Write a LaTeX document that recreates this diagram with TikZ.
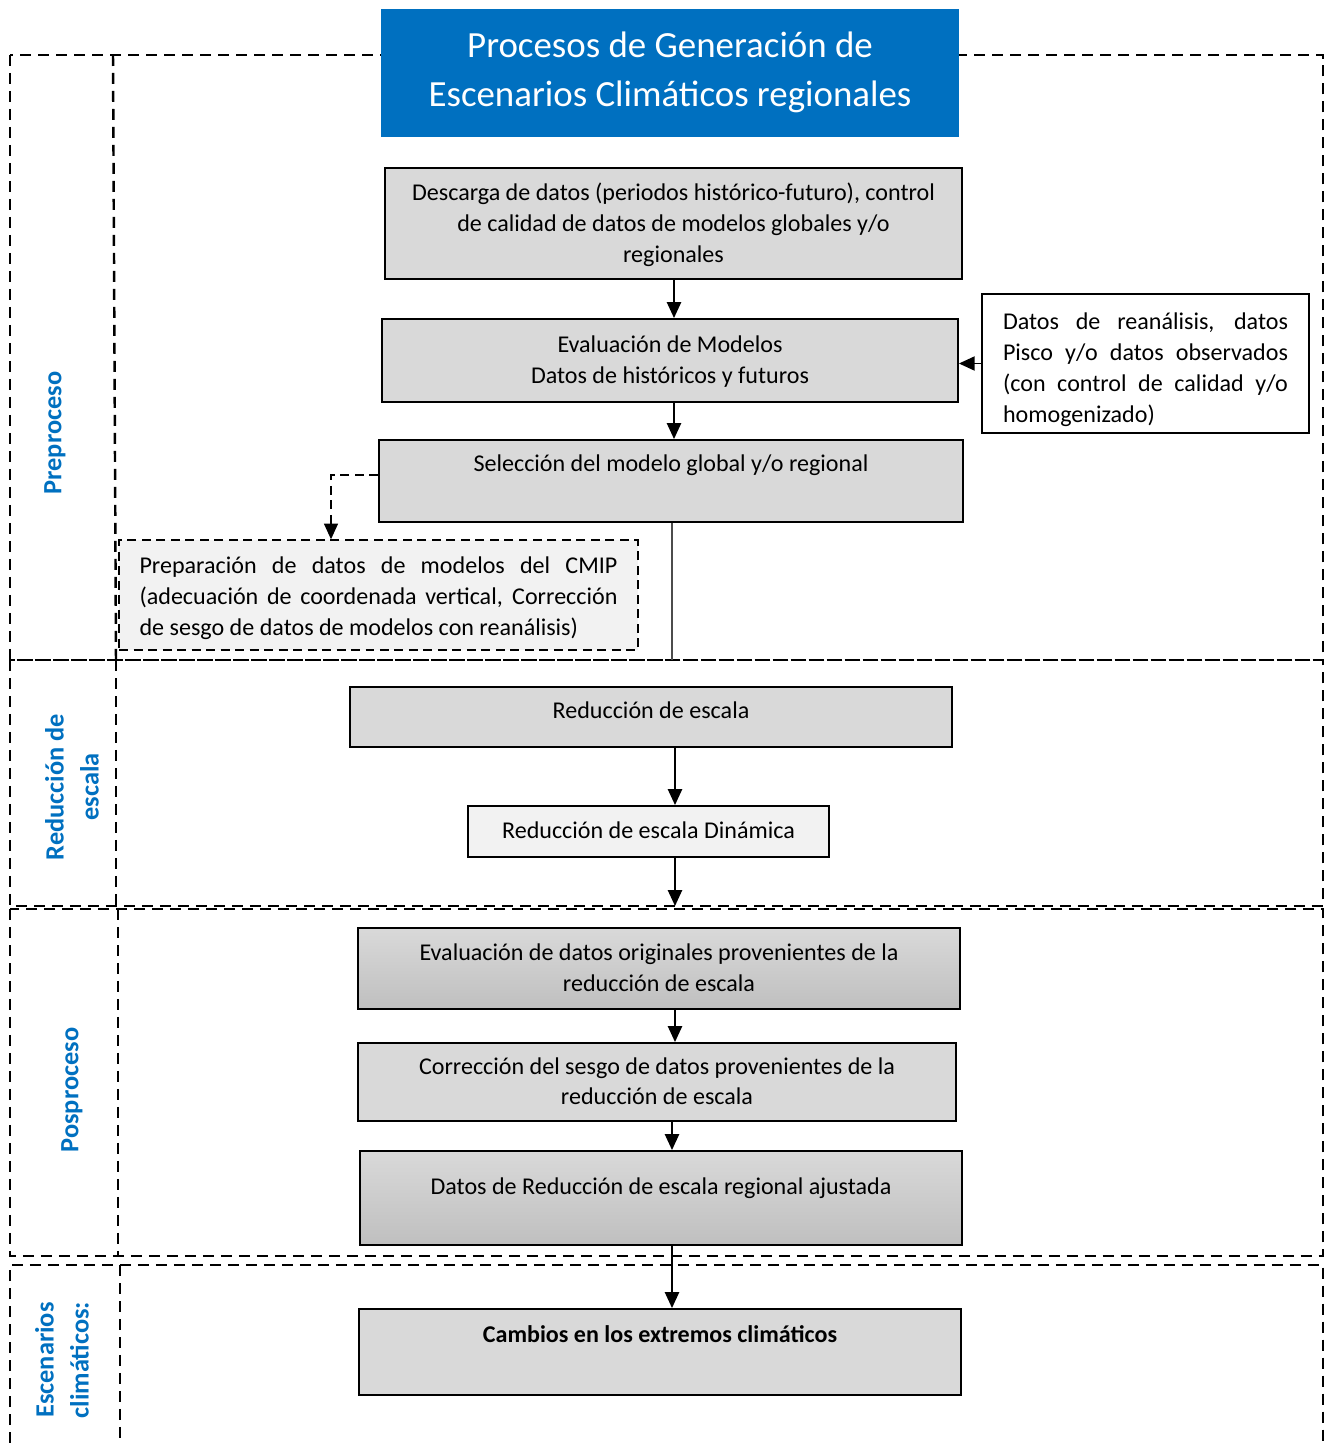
\documentclass[tikz,border=0pt]{standalone}
\usepackage{fontspec}
\setmainfont{Carlito}
\usetikzlibrary{arrows.meta,calc}

\definecolor{titelblau}{HTML}{0070C0}
\definecolor{boxgrau}{HTML}{D9D9D9}
\definecolor{hellgrau}{HTML}{F2F2F2}

\tikzset{
  bereich/.style={line width=1.4pt, dash pattern=on 0.22cm off 0.14cm},
  prozess/.style={draw, line width=1.1pt, fill=boxgrau, align=center, inner sep=2pt,
    font=\fontsize{13.7}{17.6}\selectfont},
  verlauf/.style={prozess, top color=boxgrau, bottom color=black!25},
  fluss/.style={-{Triangle[length=9pt,width=8pt]}, line width=1.1pt},
  seitentitel/.style={rotate=90, align=center, text=titelblau,
    font=\fontsize{15}{19.9}\selectfont\bfseries}
}

\begin{document}
\begin{tikzpicture}[x=0.02cm,y=-0.02cm]

% ---------- Parameter ----------
\def\xl{10}
\def\xr{1323}

\useasboundingbox (0,0) rectangle (1325,1443);

% ---------- Bereiche (gestrichelt) ----------
\draw[bereich] (\xl,55) rectangle (\xr,660);
\draw[bereich] (113,55) -- (116,660);
\draw[bereich] (\xl,660) rectangle (\xr,906);
\draw[bereich] (116,660) -- (116,906);
\draw[bereich] (\xl,909) rectangle (\xr,1256);
\draw[bereich] (118,909) -- (118,1256);
\draw[bereich] (\xl,1443) |- (\xr,1265) -- (\xr,1443);
\draw[bereich] (120,1265) -- (120,1443);

\node[seitentitel] (lpre) at (55,433) {Preproceso};
\node[seitentitel] (lred) at (72,787) {Reducción de\\escala};
\node[seitentitel] (lpos) at (72,1090) {Posproceso};
\node[seitentitel] (lesc) at (62,1360) {Escenarios\\climáticos:};

% ---------- Titel ----------
\node[fill=titelblau, text=white, align=center, minimum width=11.56cm, minimum height=2.56cm,
  font=\fontsize{21}{27.9}\selectfont, text depth=4pt] (titel) at (670,73)
  {Procesos de Generación de\\Escenarios Climáticos regionales};

% ---------- Preproceso ----------
\coordinate (spine) at (674,0);

\node[prozess, minimum width=11.54cm, minimum height=2.22cm, text depth=1pt] (desc) at (673.5,223.5)
  {Descarga de datos (periodos histórico-futuro), control\\de calidad de datos de modelos globales y/o\\regionales};
\node[prozess, minimum width=11.52cm, minimum height=1.66cm, text depth=1pt] (evalmod) at (670,360.5)
  {Evaluación de Modelos\\Datos de históricos y futuros};
\node[prozess, minimum width=11.68cm, minimum height=1.64cm, text depth=20pt] (selec) at (671,481)
  {Selección del modelo global y/o regional};
\node[draw, line width=1.1pt, fill=white, minimum width=6.54cm, minimum height=2.78cm,
  text width=5.7cm, align=justify, inner sep=2pt, text height=17pt,
  font=\fontsize{13.7}{17.6}\selectfont] (reanal) at (1145.5,363.5)
  {Datos de reanálisis, datos\linebreak Pisco y/o datos observados\linebreak (con control de calidad y/o\linebreak homogenizado)};
\node[draw, line width=0.8pt, dash pattern=on 0.18cm off 0.11cm, fill=hellgrau, minimum width=10.38cm,
  minimum height=2.2cm, text width=9.56cm, align=justify, inner sep=2pt, text height=13pt,
  font=\fontsize{13.7}{17.6}\selectfont] (prep) at (378.5,595)
  {Preparación de datos de modelos del CMIP\linebreak (adecuación de coordenada vertical, Corrección\linebreak de sesgo de datos de modelos con reanálisis)};

\draw[fluss] (desc.south -| spine) -- (evalmod.north -| spine);
\draw[fluss] (evalmod.south -| spine) -- (selec.north -| spine);
\draw[fluss] (reanal.west) -- (reanal.west -| evalmod.east);

\coordinate (knick) at (331,475);
\draw[fluss, line width=0.8pt, dash pattern=on 0.18cm off 0.11cm] (selec.west |- knick) -- (knick) -- (prep.north -| knick);
\coordinate (selecend) at (672,660);
\draw[black!70, line width=0.6pt] (selec.south -| selecend) -- (selecend);

% ---------- Reducción de escala ----------
\node[prozess, minimum width=12.04cm, minimum height=1.2cm, text depth=8pt] (red) at (651,717)
  {Reducción de escala};
\node[prozess, fill=hellgrau, minimum width=7.22cm, minimum height=1.02cm, text depth=2pt] (reddin) at (648.5,831.5)
  {Reducción de escala Dinámica};
\coordinate (redend) at (675,906);

\draw[fluss] (red.south -| redend) -- (reddin.north -| redend);
\draw[fluss] (reddin.south -| redend) -- (redend);

% ---------- Posproceso ----------
\node[verlauf, minimum width=12.04cm, minimum height=1.62cm, text depth=1pt] (evalorig) at (659,968.5)
  {Evaluación de datos originales provenientes de la\\reducción de escala};
\node[prozess, minimum width=11.96cm, minimum height=1.56cm, text depth=1pt] (correc) at (657,1082)
  {Corrección del sesgo de datos provenientes de la\\reducción de escala};
\node[verlauf, minimum width=12.04cm, minimum height=1.88cm, text depth=13pt] (ajust) at (661,1198)
  {Datos de Reducción de escala regional ajustada};

\draw[fluss] (evalorig.south -| redend) -- (correc.north -| redend);
\draw[fluss] (correc.south -| 672,0) -- (ajust.north -| 672,0);

% ---------- Escenarios climáticos ----------
\node[prozess, minimum width=12.04cm, minimum height=1.72cm, text depth=20pt] (cambios) at (660,1352)
  {\bfseries Cambios en los extremos climáticos};

\draw[fluss] (ajust.south -| 672,0) -- (cambios.north -| 672,0);

\end{tikzpicture}
\end{document}
